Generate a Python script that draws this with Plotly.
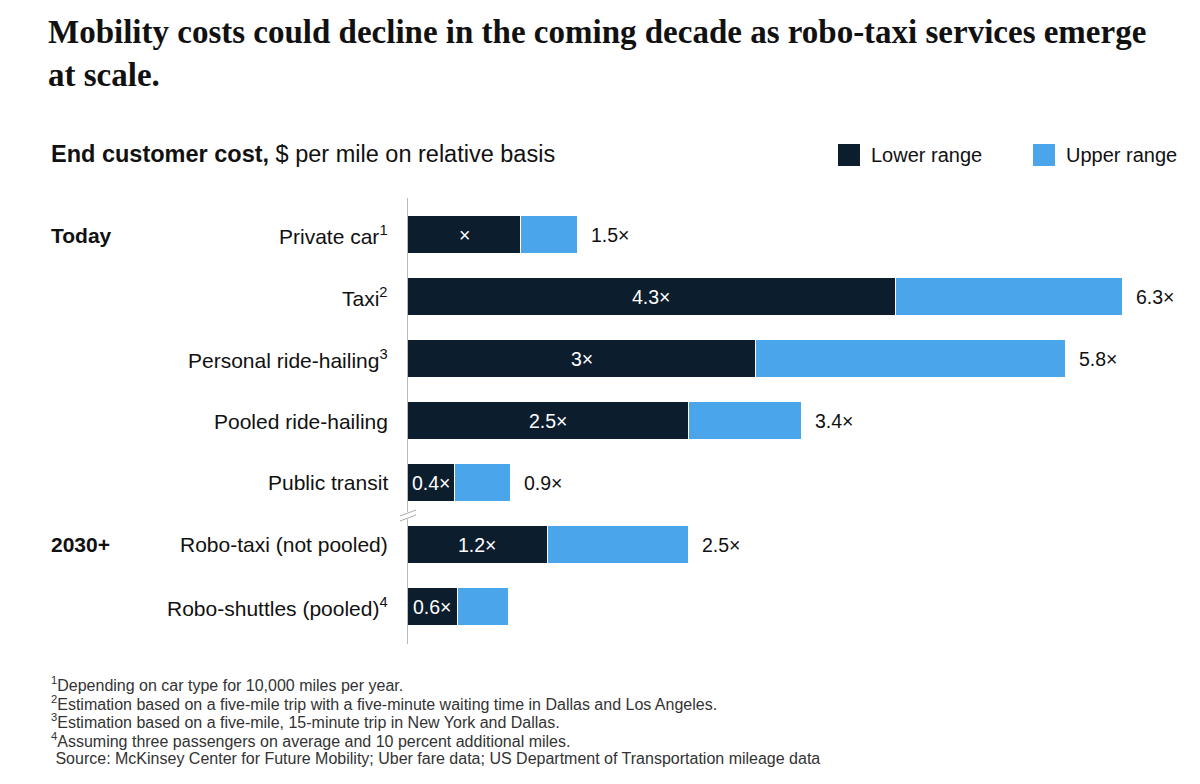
import plotly.graph_objects as go

categories = ["Private car", "Taxi", "Personal ride-hailing", "Pooled ride-hailing",
              "Public transit", "Robo-taxi (not pooled)", "Robo-shuttles (pooled)"]
superscripts = ["1", "2", "3", "", "", "", "4"]
lower_values = [1.0, 4.3, 3.07, 2.48, 0.41, 1.23, 0.44]
upper_values = [1.5, 6.3, 5.8, 3.47, 0.91, 2.48, 0.89]
lower_labels = ["×", "4.3×", "3×", "2.5×", "0.4×", "1.2×", "0.6×"]
upper_labels = ["1.5×", "6.3×", "5.8×", "3.4×", "0.9×", "2.5×", ""]
groups = [("Today", 0), ("2030+", 5)]

DARK = "#0c1d2d"
BLUE = "#4ba5ea"
FONT = "Liberation Sans"

W, H = 1200, 784
L, R, T, B = 408, 9, 198, 140
PW, PH = W - L - R, H - T - B


def xp(px):
    return (px - L) / PW


def yp(py):
    return (H - B - py) / PH


ypos = list(range(len(categories)))
seg = [u - l for u, l in zip(upper_values, lower_values)]

fig = go.Figure()
fig.add_trace(go.Bar(y=ypos, x=lower_values, orientation="h", marker=dict(color=DARK, line=dict(color="white", width=1)),
                     width=0.61, name="Lower range", hoverinfo="skip"))
fig.add_trace(go.Bar(y=ypos, x=seg, base=lower_values, orientation="h",
                     marker=dict(color=BLUE, line=dict(color="white", width=1)),
                     width=0.61, name="Upper range", hoverinfo="skip"))

ann = []
for i, c in enumerate(categories):
    txt = c + (f"<sup>{superscripts[i]}</sup>" if superscripts[i] else "")
    ann.append(dict(x=xp(390), xref="paper", y=i, yref="y", text=txt, showarrow=False,
                    xanchor="right", yanchor="middle", font=dict(family=FONT, size=21, color="#111")))
    ann.append(dict(x=lower_values[i] / 2, xref="x", y=i, yref="y", text=lower_labels[i], showarrow=False,
                    xanchor="center", yanchor="middle", font=dict(family=FONT, size=19.5, color="white")))
    if upper_labels[i]:
        ann.append(dict(x=upper_values[i], xref="x", y=i, yref="y", text=upper_labels[i], showarrow=False,
                        xanchor="left", yanchor="middle", xshift=11, font=dict(family=FONT, size=19.5, color="#111")))

for g, idx in groups:
    ann.append(dict(x=xp(49), xref="paper", y=idx, yref="y", text=f"<b>{g}</b>", showarrow=False,
                    xanchor="left", yanchor="middle", font=dict(family=FONT, size=21, color="#111")))

ann.append(dict(x=xp(46), xref="paper", y=yp(12), yref="paper", xanchor="left", yanchor="top", align="left",
                text="<b>Mobility costs could decline in the coming decade as robo-taxi services emerge<br>at scale.</b>",
                showarrow=False, font=dict(family="Liberation Serif", size=33, color="#111")))
ann.append(dict(x=xp(49), xref="paper", y=yp(154), yref="paper", xanchor="left", yanchor="middle",
                text="<b>End customer cost,</b> $ per mile on relative basis", showarrow=False,
                font=dict(family=FONT, size=23.5, color="#111")))
ann.append(dict(x=xp(869), xref="paper", y=yp(155), yref="paper", xanchor="left", yanchor="middle",
                text="Lower range", showarrow=False, font=dict(family=FONT, size=20, color="#111")))
ann.append(dict(x=xp(1064), xref="paper", y=yp(155), yref="paper", xanchor="left", yanchor="middle",
                text="Upper range", showarrow=False, font=dict(family=FONT, size=20, color="#111")))

footnotes = ["<sup>1</sup>Depending on car type for 10,000 miles per year.",
             "<sup>2</sup>Estimation based on a five-mile trip with a five-minute waiting time in Dallas and Los Angeles.",
             "<sup>3</sup>Estimation based on a five-mile, 15-minute trip in New York and Dallas.",
             "<sup>4</sup>Assuming three passengers on average and 10 percent additional miles.",
             " Source: McKinsey Center for Future Mobility; Uber fare data; US Department of Transportation mileage data"]
for k, f in enumerate(footnotes):
    ann.append(dict(x=xp(49), xref="paper", y=yp(684 + 18.6 * k), yref="paper", xanchor="left", yanchor="middle",
                    text=f, showarrow=False, font=dict(family=FONT, size=16, color="#333")))

shapes = [
    dict(type="rect", xref="paper", yref="paper", x0=xp(838), x1=xp(860), y0=yp(144), y1=yp(166),
         fillcolor=DARK, line=dict(width=0)),
    dict(type="rect", xref="paper", yref="paper", x0=xp(1033), x1=xp(1055), y0=yp(144), y1=yp(166),
         fillcolor=BLUE, line=dict(width=0)),
    dict(type="line", xref="paper", yref="paper", x0=0, x1=0, y0=yp(512), y1=yp(519),
         line=dict(color="white", width=3)),
    dict(type="line", xref="paper", yref="paper", x0=xp(400), x1=xp(416), y0=yp(516), y1=yp(510),
         line=dict(color="#aaa", width=1)),
    dict(type="line", xref="paper", yref="paper", x0=xp(400), x1=xp(416), y0=yp(521), y1=yp(515),
         line=dict(color="#aaa", width=1)),
]

fig.update_layout(
    width=W, height=H, margin=dict(l=L, r=R, t=T, b=B),
    barmode="overlay", showlegend=False, bargap=0,
    paper_bgcolor="white", plot_bgcolor="white",
    xaxis=dict(range=[0, 6.9], visible=False, fixedrange=True),
    yaxis=dict(range=[6.6, -0.6], showticklabels=False, showgrid=False, zeroline=False,
               showline=True, linecolor="#bbb", linewidth=1, ticks=""),
    annotations=ann, shapes=shapes,
)
fig.write_html("out.html")
